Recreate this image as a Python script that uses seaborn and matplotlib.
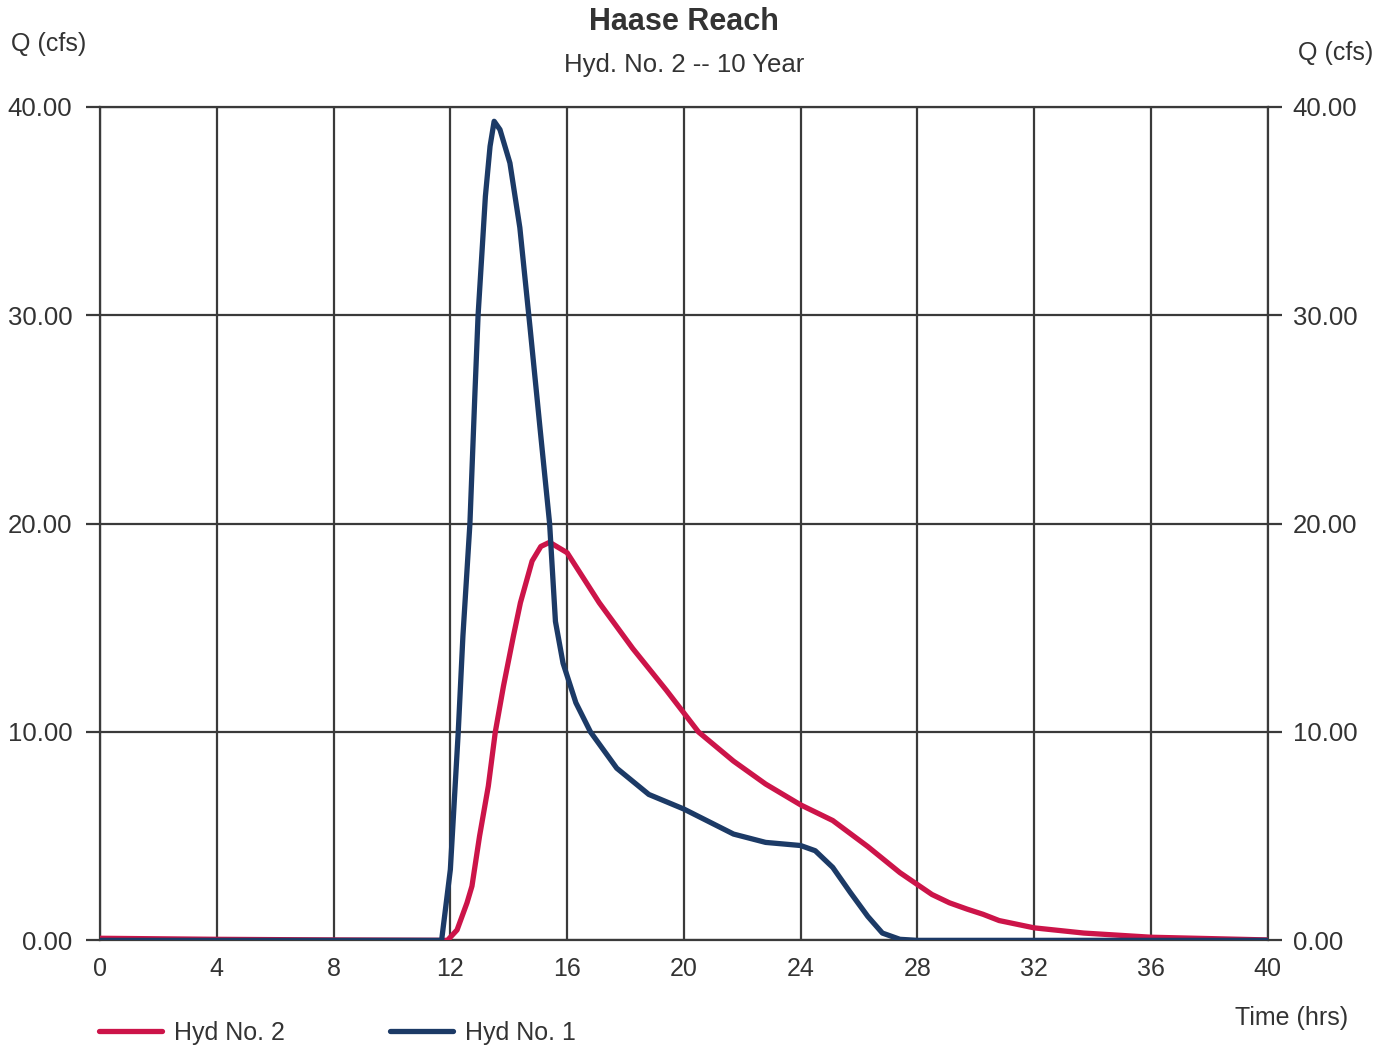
import matplotlib
matplotlib.use("Agg")
import matplotlib.pyplot as plt
import numpy as np
import pandas as pd
import seaborn as sns

# Hyd No. 1 (inflow)
hyd1_time = [0, 4, 8, 11.7, 12.0, 12.27, 12.43, 12.67, 12.84, 12.95, 13.1, 13.2,
             13.36, 13.5, 13.7, 14.04, 14.38, 14.73, 15.07, 15.4, 15.6, 15.86,
             16.3, 16.8, 17.7, 18.8, 20.0, 21.7, 22.8, 24.0, 24.5, 25.1, 25.7,
             26.3, 26.8, 27.4, 28.0, 32, 36, 40]
hyd1_flow = [0, 0, 0, 0, 3.4, 10.0, 14.6, 20.0, 26.2, 30.0, 33.4, 35.7,
             38.1, 39.3, 38.9, 37.3, 34.2, 29.4, 24.6, 20.0, 15.3, 13.3,
             11.4, 10.0, 8.26, 7.0, 6.3, 5.1, 4.7, 4.55, 4.3, 3.5, 2.3,
             1.15, 0.35, 0.05, 0, 0, 0, 0]

# Hyd No. 2 (reach outflow)
hyd2_time = [0, 4, 8, 11.9, 12.23, 12.57, 12.74, 13.0, 13.3, 13.54, 13.82, 14.16,
             14.4, 14.8, 15.1, 15.4, 16.0, 17.1, 18.25, 19.4, 20.5, 21.7, 22.8,
             24.0, 25.1, 26.3, 27.4, 28.5, 29.1, 29.7, 30.25, 30.8, 32, 33.7,
             36, 40]
hyd2_flow = [0.1, 0.05, 0.02, 0, 0.5, 1.8, 2.6, 5.0, 7.4, 10.0, 12.2, 14.6,
             16.2, 18.2, 18.9, 19.1, 18.6, 16.2, 14.0, 12.0, 10.0, 8.6, 7.5,
             6.5, 5.75, 4.5, 3.25, 2.2, 1.8, 1.5, 1.25, 0.95, 0.6, 0.35,
             0.15, 0.02]

x_ticks = [0, 4, 8, 12, 16, 20, 24, 28, 32, 36, 40]
y_ticks = [0, 10, 20, 30, 40]

RED = "#cc1449"
BLUE = "#1c3a66"
GRID = "#3a3a3a"
TXT = "#333333"

sns.set_style("white")
plt.rcParams["font.family"] = ["Liberation Sans", "DejaVu Sans"]

df1 = pd.DataFrame({"t": hyd1_time, "q": hyd1_flow})
df2 = pd.DataFrame({"t": hyd2_time, "q": hyd2_flow})

fig = plt.figure(figsize=(13.9, 10.46), dpi=100)
ax = fig.add_axes([0.072, 0.101, 0.84, 0.797])

sns.lineplot(data=df2, x="t", y="q", ax=ax, color=RED, lw=3.8,
             label="Hyd No. 2", zorder=3, solid_joinstyle="round",
             solid_capstyle="round")
sns.lineplot(data=df1, x="t", y="q", ax=ax, color=BLUE, lw=3.8,
             label="Hyd No. 1", zorder=4, solid_joinstyle="round",
             solid_capstyle="round")

ax.set_xlim(0, 40)
ax.set_ylim(0, 40)
ax.set_xticks(x_ticks)
ax.set_yticks(y_ticks)
ax.set_yticklabels([f"{v:.2f}" for v in y_ticks])
ax.set_xlabel("")
ax.set_ylabel("")
ax.grid(True, color=GRID, lw=1.6)
for s in ax.spines.values():
    s.set_color(GRID)
    s.set_linewidth(1.6)
ax.tick_params(axis="y", length=10, width=1.6, color=GRID, labelsize=18.5,
               labelcolor=TXT, pad=10)
ax.tick_params(axis="x", length=0, labelsize=18, labelcolor=TXT, pad=12)

ax2 = ax.twinx()
ax2.set_ylim(0, 40)
ax2.set_yticks(y_ticks)
ax2.set_yticklabels([f"{v:.2f}" for v in y_ticks])
ax2.tick_params(axis="y", length=10, width=1.6, color=GRID, labelsize=18.5,
                labelcolor=TXT, pad=8)
for s in ax2.spines.values():
    s.set_visible(False)

fig.text(0.492, 0.979, "Haase Reach", ha="center", va="center",
         fontsize=22, fontweight="bold", color=TXT)
fig.text(0.492, 0.938, "Hyd. No. 2 -- 10 Year", ha="center", va="center",
         fontsize=18.5, color=TXT)
fig.text(0.008, 0.958, "Q (cfs)", ha="left", va="center", fontsize=18,
         color=TXT)
fig.text(0.988, 0.949, "Q (cfs)", ha="right", va="center", fontsize=18,
         color=TXT)
fig.text(0.97, 0.027, "Time (hrs)", ha="right", va="center", fontsize=18,
         color=TXT)

ax.legend(loc="center left", bbox_to_anchor=(-0.02, -0.111), ncol=2,
          frameon=False, fontsize=18, handlelength=2.5, handletextpad=0.5,
          columnspacing=4.2, labelcolor=TXT)

fig.savefig("out.png", dpi=100)
